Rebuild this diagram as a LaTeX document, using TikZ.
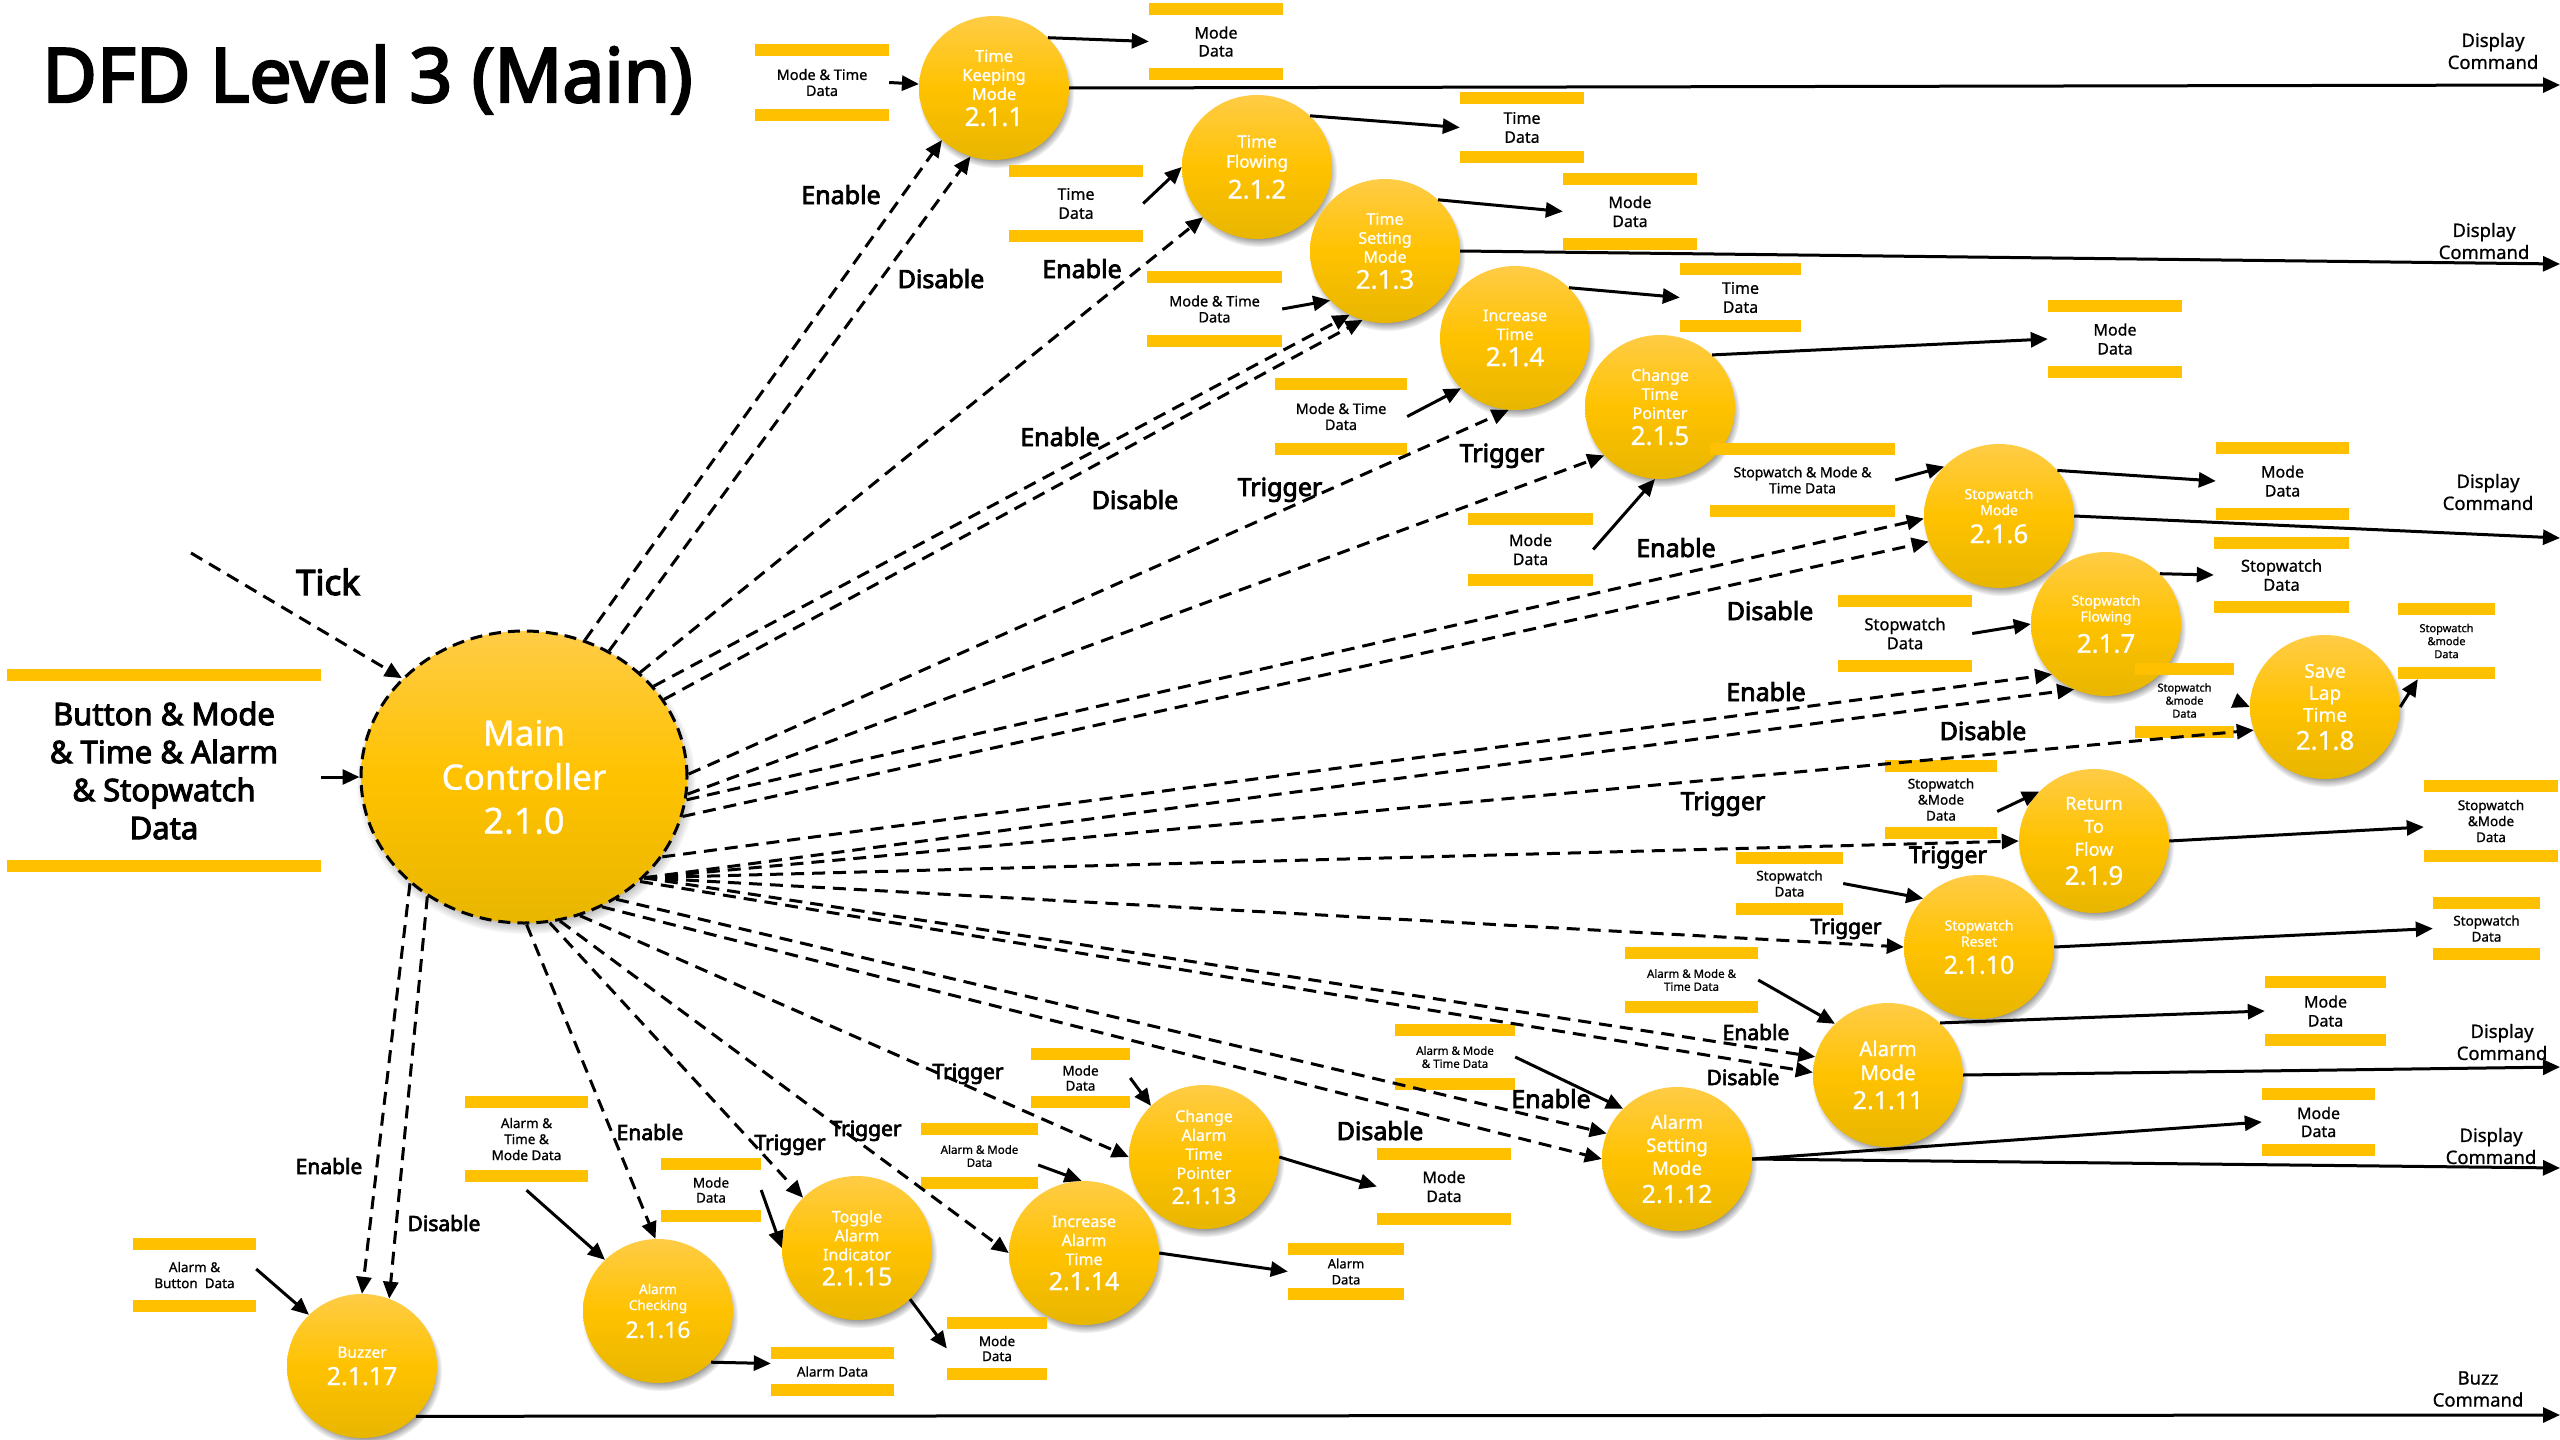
\documentclass[tikz,border=0pt]{standalone}
\usepackage{fontspec}
\setmainfont{Noto Sans}[FakeBold=0.8, BoldFont={Noto Sans}, BoldFeatures={FakeBold=3.2}]
\usetikzlibrary{shapes.geometric,arrows.meta,shadows}
\definecolor{barc}{RGB}{255,192,0}
\definecolor{pTop}{RGB}{255,204,70}
\definecolor{pMid}{RGB}{255,194,0}
\definecolor{pBot}{RGB}{232,182,0}
\newcommand\fs[2]{\fontsize{#1}{#2}\selectfont}
\newcommand\nb[3]{\fontsize{#1}{#2}\selectfont #3}
\begin{document}
\begin{tikzpicture}[x=1pt,y=-1pt,
  proc/.style={ellipse, minimum width=150pt, minimum height=144pt, inner sep=0pt,
    text=white, align=center, top color=pTop, bottom color=pBot, middle color=pMid,
    circular drop shadow={shadow xshift=2pt, shadow yshift=-5pt, shadow scale=1.04}},
  store/.style={rectangle, inner sep=0pt, align=center,
    path picture={\fill[barc] (path picture bounding box.north west) rectangle ([yshift=-12pt]path picture bounding box.north east);
      \fill[barc] (path picture bounding box.south west) rectangle ([yshift=12pt]path picture bounding box.south east);}},
  arr/.style={line width=3pt, -{Triangle[length=17pt,width=15pt]}},
  darr/.style={arr, dash pattern=on 13pt off 8pt},
  lab/.style={font=\bfseries\fs{25}{28}, anchor=base, inner sep=0pt},
  labm/.style={font=\bfseries\fs{23}{26}, anchor=base, inner sep=0pt},
  labs/.style={font=\bfseries\fs{21}{24}, anchor=base, inner sep=0pt},
  dc/.style={font=\fs{18.5}{22}, align=center, inner sep=0pt}]
\useasboundingbox (0,0) rectangle (2560,1440);
\fill[white] (0,0) rectangle (2560,1440);

\node[anchor=base west, font=\bfseries\fs{75}{80}, inner sep=0pt] (title) at (42,102) {DFD Level 3 (Main)};

% main controller
\node[proc, minimum width=326pt, minimum height=292pt, draw=black, line width=3pt, dash pattern=on 12pt off 7pt,
  font=\fs{35}{44}] (main) at (524,777) {Main\\Controller\\\nb{36}{45}{2.1.0}};

% processes
\node[proc, font=\fs{16.5}{19}] (p1) at (994,88) {Time\\Keeping\\Mode\\[7pt]\nb{26}{29}{2.1.1}};
\node[proc, font=\fs{17}{20}] (p2) at (1257,167) {Time\\Flowing\\[7pt]\nb{26}{29}{2.1.2}};
\node[proc, font=\fs{16}{19}] (p3) at (1385,251) {Time\\Setting\\Mode\\[7pt]\nb{26}{29}{2.1.3}};
\node[proc, font=\fs{16}{19}] (p4) at (1515,338) {Increase\\Time\\[7pt]\nb{26}{29}{2.1.4}};
\node[proc, font=\fs{16}{19}] (p5) at (1660,407) {Change\\Time\\Pointer\\[7pt]\nb{26}{29}{2.1.5}};
\node[proc, font=\fs{14}{16}] (p6) at (1999,516) {Stopwatch\\Mode\\[8pt]\nb{26}{28}{2.1.6}};
\node[proc, font=\fs{14}{16}] (p7) at (2106,624) {Stopwatch\\Flowing\\[8pt]\nb{26}{28}{2.1.7}};
\node[proc, font=\fs{19}{22}] (p8) at (2325,707) {Save\\Lap\\Time\\[6pt]\nb{26}{28}{2.1.8}};
\node[proc, font=\fs{18}{23}] (p9) at (2094,841) {Return\\To\\Flow\\[6pt]\nb{26}{28}{2.1.9}};
\node[proc, font=\fs{14}{16}] (p10) at (1979,947) {Stopwatch\\Reset\\[8pt]\nb{25}{28}{2.1.10}};
\node[proc, font=\fs{20.5}{24}] (p11) at (1888,1075) {Alarm\\Mode\\[5pt]\nb{25}{28}{2.1.11}};
\node[proc, font=\fs{18.5}{23}] (p12) at (1677,1159) {Alarm\\Setting\\Mode\\[5pt]\nb{25}{28}{2.1.12}};
\node[proc, font=\fs{16}{19}] (p13) at (1204,1157) {Change\\Alarm\\Time\\Pointer\\[6pt]\nb{23}{27}{2.1.13}};
\node[proc, font=\fs{16}{19}] (p14) at (1084,1253) {Increase\\Alarm\\Time\\[6pt]\nb{25}{28}{2.1.14}};
\node[proc, font=\fs{16}{19}] (p15) at (857,1248) {Toggle\\Alarm\\Indicator\\[6pt]\nb{25}{28}{2.1.15}};
\node[proc, font=\fs{13.5}{16}] (p16) at (658,1311) {Alarm\\Checking\\[7pt]\nb{23}{25}{2.1.16}};
\node[proc, font=\fs{15.5}{18}] (p17) at (362,1366) {Buzzer\\[8pt]\nb{25}{28}{2.1.17}};

% data stores
\node[store, minimum width=314pt, minimum height=203pt, font=\bfseries\fs{31}{38}] (ds0) at (164,770.5) {Button \& Mode\\\& Time \& Alarm\\\& Stopwatch\\Data};
\node[store, minimum width=134pt, minimum height=77pt, font=\fs{14.5}{16}] (ds1) at (822,82.5) {Mode \& Time\\Data};
\node[store, minimum width=134pt, minimum height=77pt, font=\fs{16}{18}] (ds2) at (1216,41.5) {Mode\\Data};
\node[store, minimum width=134pt, minimum height=77pt, font=\fs{16}{19}] (ds3) at (1076,203.5) {Time\\Data};
\node[store, minimum width=124pt, minimum height=71pt, font=\fs{16}{19}] (ds4) at (1522,127.5) {Time\\Data};
\node[store, minimum width=134pt, minimum height=77pt, font=\fs{16}{19}] (ds5) at (1630,211.5) {Mode\\Data};
\node[store, minimum width=135pt, minimum height=76pt, font=\fs{14.5}{16}] (ds6) at (1214.5,309) {Mode \& Time\\Data};
\node[store, minimum width=121pt, minimum height=69pt, font=\fs{16}{19}] (ds7) at (1740.5,297.5) {Time\\Data};
\node[store, minimum width=132pt, minimum height=77pt, font=\fs{14.5}{16}] (ds8) at (1341,416.5) {Mode \& Time\\Data};
\node[store, minimum width=134pt, minimum height=78pt, font=\fs{16}{19}] (ds9) at (2115,339) {Mode\\Data};
\node[store, minimum width=185pt, minimum height=74pt, font=\fs{14}{16}] (ds10) at (1802.5,480) {Stopwatch \& Mode \&\\Time Data};
\node[store, minimum width=125pt, minimum height=73pt, font=\fs{16}{19}] (ds11) at (1530.5,549.5) {Mode\\Data};
\node[store, minimum width=133pt, minimum height=78pt, font=\fs{16}{19}] (ds12) at (2282.5,481) {Mode\\Data};
\node[store, minimum width=135pt, minimum height=76pt, font=\fs{16.5}{19}] (ds13) at (2281.5,575) {Stopwatch\\Data};
\node[store, minimum width=134pt, minimum height=77pt, font=\fs{16.5}{19}] (ds14) at (1905,633.5) {Stopwatch\\Data};
\node[store, minimum width=97pt, minimum height=76pt, font=\fs{11}{13}] (ds15) at (2446.5,641) {Stopwatch\\\&mode\\Data};
\node[store, minimum width=99pt, minimum height=75pt, font=\fs{11}{13}] (ds16) at (2184.5,700.5) {Stopwatch\\\&mode\\Data};
\node[store, minimum width=112pt, minimum height=79pt, font=\fs{13.5}{16}] (ds17) at (1941,799.5) {Stopwatch\\\&Mode\\Data};
\node[store, minimum width=134pt, minimum height=82pt, font=\fs{13.5}{16}] (ds18) at (2491,821) {Stopwatch\\\&Mode\\Data};
\node[store, minimum width=107pt, minimum height=63pt, font=\fs{13.5}{16}] (ds19) at (1789.5,883.5) {Stopwatch\\Data};
\node[store, minimum width=107pt, minimum height=63pt, font=\fs{13.5}{16}] (ds20) at (2486.5,928.5) {Stopwatch\\Data};
\node[store, minimum width=133pt, minimum height=66pt, font=\fs{11.5}{13}] (ds21) at (1691.5,980) {Alarm \& Mode \&\\Time Data};
\node[store, minimum width=121pt, minimum height=70pt, font=\fs{16}{19}] (ds22) at (2325.5,1011) {Mode\\Data};
\node[store, minimum width=113pt, minimum height=68pt, font=\fs{16}{18}] (ds23) at (2318.5,1122) {Mode\\Data};
\node[store, minimum width=120pt, minimum height=66pt, font=\fs{11.5}{13}] (ds24) at (1455,1057) {Alarm \& Mode\\\& Time Data};
\node[store, minimum width=134pt, minimum height=77pt, font=\fs{16}{19}] (ds25) at (1444,1186.5) {Mode\\Data};
\node[store, minimum width=99pt, minimum height=60pt, font=\fs{13.5}{15}] (ds26) at (1080.5,1078) {Mode\\Data};
\node[store, minimum width=117pt, minimum height=66pt, font=\fs{11.5}{13}] (ds27) at (979.5,1156) {Alarm \& Mode\\Data};
\node[store, minimum width=116pt, minimum height=57pt, font=\fs{13}{16}] (ds28) at (1346,1271.5) {Alarm\\Data};
\node[store, minimum width=100pt, minimum height=64pt, font=\fs{13.5}{15}] (ds29) at (711,1190) {Mode\\Data};
\node[store, minimum width=100pt, minimum height=63pt, font=\fs{13.5}{15}] (ds30) at (997,1348.5) {Mode\\Data};
\node[store, minimum width=123pt, minimum height=49pt, font=\fs{13.5}{16}] (ds31) at (832.5,1371.5) {Alarm Data};
\node[store, minimum width=123pt, minimum height=86pt, font=\fs{13.5}{16}] (ds32) at (526.5,1139) {Alarm \&\\Time \&\\Mode Data};
\node[store, minimum width=123pt, minimum height=74pt, font=\fs{13.5}{16}] (ds33) at (194.5,1275) {Alarm \&\\Button~~Data};

% external outputs
\coordinate (dc1) at (2560,85);
\coordinate (dc2) at (2560,264);
\coordinate (dc3) at (2560,538);
\coordinate (dc4) at (2560,1067);
\coordinate (dc5) at (2560,1168);
\coordinate (buzz) at (2560,1415);
\coordinate (tick0) at (191,553);
\node[dc] (t1) at (2493,51) {Display\\Command};
\node[dc] (t2) at (2484,241) {Display\\Command};
\node[dc] (t3) at (2488,492) {Display\\Command};
\node[dc] (t4) at (2502,1042) {Display\\Command};
\node[dc] (t5) at (2491,1146) {Display\\Command};
\node[dc] (t6) at (2478,1389) {Buzz\\Command};

% solid data flows
\draw[arr] (ds0.east |- main) -- (main);
\draw[arr] (ds1.east) -- (p1);
\draw[arr] (p1.43) -- (ds2.west);
\draw[arr] (p1.east) -- (dc1);
\draw[arr] (ds3.east) -- (p2.west);
\draw[arr] (p2.44) -- (ds4.west);
\draw[arr] (ds6.east) -- (p3.222);
\draw[arr] (p3.44) -- (ds5.west);
\draw[arr] (p3.east) -- (dc2);
\draw[arr] (ds8.east) -- (p4.223);
\draw[arr] (p4.43) -- (ds7.west);
\draw[arr] (ds11.east) -- (p5.266);
\draw[arr] (p5.45) -- (ds9.west);
\draw[arr] (ds10.east) -- (p6.138);
\draw[arr] (p6.38) -- (ds12.west);
\draw[arr] (p6.east) -- (dc3);
\draw[arr] (ds14.east) -- (p7.west);
\draw[arr] (p7.43) -- (ds13.west);
\draw[arr] (ds16.east) -- (p8.west);
\draw[arr] (p8.east) -- ([xshift=20pt]ds15.south west);
\draw[arr] ([yshift=-12pt]ds17.east) -- (p9.138);
\draw[arr] (p9.east) -- ([yshift=-6pt]ds18.west);
\draw[arr] (ds19.east) -- (p10.139);
\draw[arr] (p10.east) -- (ds20.west);
\draw[arr] (ds21.east) -- (p11.136);
\draw[arr] (p11.45) -- (ds22.west);
\draw[arr] (p11.east) -- (dc4);
\draw[arr] (ds24.east) -- (p12.137);
\draw[arr] (p12.east) -- (ds23.west);
\draw[arr] (p12.east) -- (dc5);
\draw[arr] (ds26.east) -- (p13.136);
\draw[arr] (p13.east) -- (ds25.west);
\draw[arr] ([yshift=-9pt]ds27.east) -- (p14.92);
\draw[arr] (p14.east) -- (ds28.west);
\draw[arr] (ds29.east) -- (p15.west);
\draw[arr] (p15.-44) -- (ds30.west);
\draw[arr] ([yshift=-8pt]ds32.south) -- (p16.136);
\draw[arr] (p16.-44) -- ([yshift=8pt]ds31.west);
\draw[arr] ([yshift=6pt]ds33.east) -- (p17.136);
\draw[arr] (p17.-43) -- (buzz);

% control flows
\draw[darr] (tick0) -- (main.141);
\draw[darr] (main.66) -- (p1.225);
\draw[darr] (main.56) -- (p1.251);
\draw[darr] (main.42.6) -- (p2.223);
\draw[darr] (main.35) -- (p3.241);
\draw[darr] (main.29) -- (p3.252);
\draw[darr] (main.1) -- (p4.265);
\draw[darr] (main.-6) -- (p5.221);
\draw[darr] (main.-8) -- (p6.182);
\draw[darr] (main.-14) -- (p6.200);
\draw[darr] (main.-30) -- (p7.223);
\draw[darr] (main.-40) -- (p7.244);
\draw[darr] (main.-40) -- (p8.198);
\draw[darr] (main.-40) -- (p9.180);
\draw[darr] (main.-40) -- (p10.180);
\draw[darr] (main.-40) -- (p11.166);
\draw[darr] (main.-42) -- (p11.178);
\draw[darr] (main.-53) -- (p12.160);
\draw[darr] (main.-59.5) -- (p12.180);
\draw[darr] (main.-68) -- (p13.180);
\draw[darr] (main.-76) -- (p14.180);
\draw[darr] (main.-80) -- (p15.137);
\draw[darr] (main.-89) -- (p16.92);
\draw[darr] (main.223) -- (p17.90);
\draw[darr] (main.231) -- (p17.68);

% control labels
\node[font=\bfseries\fs{35}{38}, anchor=base, inner sep=0pt] (ltick) at (328,595) {Tick};
\node[lab] (l1) at (841,204) {Enable};
\node[lab] (l2) at (941,288) {Disable};
\node[lab] (l3) at (1082,278) {Enable};
\node[lab] (l4) at (1060,446) {Enable};
\node[lab] (l5) at (1135,509) {Disable};
\node[lab] (l6) at (1280,496) {Trigger};
\node[lab] (l7) at (1502,462) {Trigger};
\node[lab] (l8) at (1676,557) {Enable};
\node[lab] (l9) at (1770,620) {Disable};
\node[lab] (l10) at (1766,701) {Enable};
\node[lab] (l11) at (1983,740) {Disable};
\node[lab] (l12) at (1723,810) {Trigger};
\node[labm] (l13) at (1948,863) {Trigger};
\node[labs] (l14) at (1846,934) {Trigger};
\node[labs] (l15) at (1756,1040) {Enable};
\node[labs] (l16) at (1743,1085) {Disable};
\node[lab] (l17) at (1551,1108) {Enable};
\node[lab] (l18) at (1380,1140) {Disable};
\node[labs] (l19) at (968,1079) {Trigger};
\node[labs] (l20) at (866,1136) {Trigger};
\node[labs] (l21) at (790,1150) {Trigger};
\node[labs] (l22) at (650,1140) {Enable};
\node[labs] (l23) at (329,1174) {Enable};
\node[labs] (l24) at (444,1231) {Disable};
\end{tikzpicture}
\end{document}
